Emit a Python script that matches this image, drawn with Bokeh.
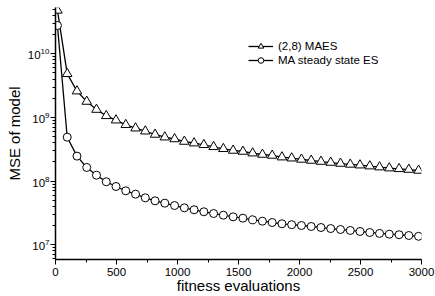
from bokeh.plotting import figure
from bokeh.models import (Range1d, FixedTicker, SingleIntervalTicker, Legend, LegendItem,
                          LogTickFormatter, ColumnDataSource)
from bokeh.embed import file_html
from bokeh.resources import INLINE

evals = [16, 96, 176, 256, 336, 416, 496, 576, 656, 736, 816, 896, 976, 1056, 1136,
         1216, 1296, 1376, 1456, 1536, 1616, 1696, 1776, 1856, 1936, 2016, 2096, 2176,
         2256, 2336, 2416, 2496, 2576, 2656, 2736, 2816, 2896, 2976]

maes = [4.8e10, 4.85e9, 2.59e9, 1.78e9, 1.33e9, 1.06e9, 9.06e8, 7.67e8, 6.78e8, 6.08e8,
        5.40e8, 4.90e8, 4.59e8, 4.19e8, 3.95e8, 3.72e8, 3.46e8, 3.22e8, 3.03e8, 2.92e8,
        2.75e8, 2.62e8, 2.53e8, 2.38e8, 2.29e8, 2.19e8, 2.11e8, 2.03e8, 1.96e8, 1.89e8,
        1.83e8, 1.78e8, 1.72e8, 1.66e8, 1.60e8, 1.56e8, 1.52e8, 1.47e8]

steady = [2.78e10, 4.90e8, 2.47e8, 1.64e8, 1.24e8, 9.77e7, 8.24e7, 7.05e7, 6.24e7, 5.47e7,
          4.91e7, 4.51e7, 4.14e7, 3.81e7, 3.55e7, 3.30e7, 3.10e7, 2.92e7, 2.75e7, 2.62e7,
          2.47e7, 2.35e7, 2.24e7, 2.14e7, 2.07e7, 2.01e7, 1.94e7, 1.87e7, 1.80e7, 1.74e7,
          1.68e7, 1.62e7, 1.56e7, 1.51e7, 1.47e7, 1.44e7, 1.40e7, 1.36e7]

labels = ["(2,8) MAES", "MA steady state ES"]
y_major = [1e7, 1e8, 1e9, 1e10]
y_minor = [m * 10 ** e for e in range(6, 11) for m in range(2, 10)]

FONT = "Liberation Sans"

src = ColumnDataSource(data=dict(x=evals, maes=maes, steady=steady))

p = figure(width=435, height=296, y_axis_type="log", output_backend="svg",
           toolbar_location=None, x_range=Range1d(0, 3000), y_range=Range1d(5.88e6, 5.33e10),
           min_border_left=55, min_border_bottom=37, min_border_top=7, min_border_right=14)
p.outline_line_color = None
p.xgrid.visible = False
p.ygrid.visible = False

r1l = p.line("x", "maes", source=src, line_color="black", line_width=1.3)
r2l = p.line("x", "steady", source=src, line_color="black", line_width=1.3)

# smaller markers used by the legend; fully covered by the larger plot markers
l1m = p.scatter("x", "maes", source=src, marker="triangle", size=5,
                fill_color="white", line_color="black", line_width=1)
l2m = p.scatter("x", "steady", source=src, marker="circle", size=4.5,
                fill_color="white", line_color="black", line_width=1)

r1m = p.scatter("x", "maes", source=src, marker="triangle", size=9.5, fill_color="white",
                line_color="black", line_width=1)
r2m = p.scatter("x", "steady", source=src, marker="circle", size=8, fill_color="white",
                line_color="black", line_width=1)

p.xaxis.ticker = SingleIntervalTicker(interval=500, num_minor_ticks=2)
p.yaxis.ticker = FixedTicker(ticks=y_major, minor_ticks=y_minor)
p.yaxis.formatter = LogTickFormatter()

for ax in (p.xaxis[0], p.yaxis[0]):
    ax.axis_line_color = "black"
    ax.axis_line_width = 1.5
    ax.major_tick_line_color = "black"
    ax.minor_tick_line_color = "black"
    ax.major_tick_in = 0
    ax.major_tick_out = 5
    ax.minor_tick_in = 0
    ax.minor_tick_out = 3
    ax.major_label_text_font = FONT
    ax.major_label_text_font_size = "11.5px"
    ax.major_label_text_color = "black"
    ax.axis_label_text_font = FONT
    ax.axis_label_text_font_size = "15px"
    ax.axis_label_text_font_style = "normal"
    ax.axis_label_text_color = "black"

p.xaxis.axis_label = "fitness evaluations"
p.xaxis.axis_label_standoff = -2
p.xaxis.major_label_standoff = 3
p.yaxis.axis_label = "MSE of model"
p.yaxis.axis_label_standoff = 2
p.yaxis.major_label_standoff = 1

legend = Legend(items=[LegendItem(label=labels[0], renderers=[r1l, l1m]),
                       LegendItem(label=labels[1], renderers=[r2l, l2m])],
                location=(193, 192), padding=0, margin=0, spacing=0,
                glyph_width=25, glyph_height=14, label_height=14, label_standoff=5,
                border_line_color=None, background_fill_alpha=0,
                label_text_font=FONT, label_text_font_size="11.5px",
                label_text_color="black")
p.add_layout(legend, "center")

open("out.html", "w").write(file_html(p, INLINE))
